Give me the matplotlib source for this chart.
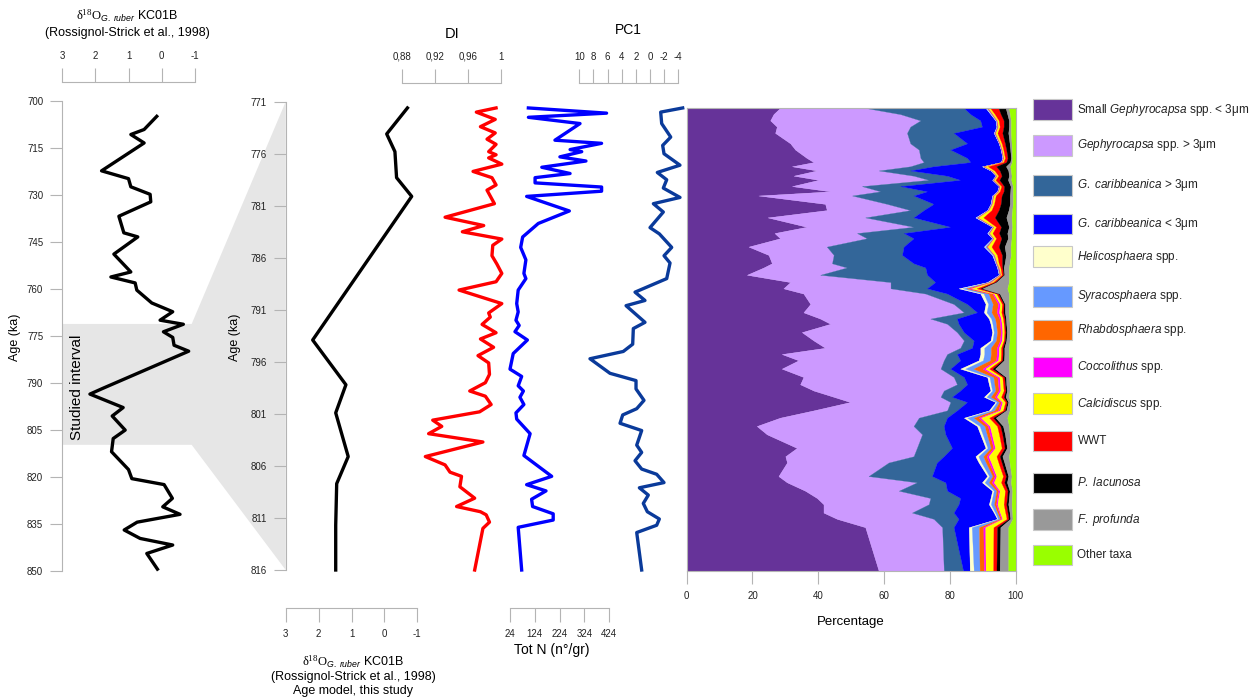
# %% biblioteke
import numpy as np
import matplotlib
matplotlib.use('Agg')
import matplotlib.pyplot as plt
from matplotlib.patches import Polygon, Rectangle

plt.rcParams['font.family'] = ['Liberation Sans', 'DejaVu Sans']
plt.rcParams['mathtext.fontset'] = 'custom'
plt.rcParams['mathtext.rm'] = 'Liberation Serif'
plt.rcParams['mathtext.it'] = 'Liberation Sans:italic'
plt.rcParams['mathtext.sf'] = 'Liberation Sans'
plt.rcParams['axes.unicode_minus'] = False

# %% podaci - d18O KC01B (Rossignol-Strick et al., 1998)
d18o_age = [704.9, 709.1, 710.7, 713.4, 722.3, 724.8, 727.4, 729.8, 732.2, 736.8,
            742.1, 743.4, 748.9, 754.6, 756.2, 758.1, 760.4, 764.5, 767.3, 770.0,
            771.3, 773.7, 775.5, 778.0, 779.9, 791.8, 793.6, 797.9, 800.6, 805.1,
            807.8, 812.0, 817.7, 820.6, 822.5, 826.9, 829.6, 832.0, 834.5, 837.0,
            839.7, 841.8, 844.5, 849.5]
d18o_val = [0.15, 0.53, 0.93, 0.53, 1.81, 1.00, 0.93, 0.35, 0.33, 1.29,
            1.14, 0.72, 1.44, 0.93, 1.53, 0.80, 0.75, 0.30, -0.33, 0.05,
            -0.65, -0.05, -0.33, -0.37, -0.81, 1.78, 2.16, 1.16, 1.49, 1.10,
            1.46, 1.51, 1.00, 0.90, -0.07, -0.32, -0.03, -0.55, 0.74, 1.13,
            0.65, -0.33, 0.45, 0.13]
studied_top, studied_bottom = 771.2, 809.8

# d18O na novom starosnom modelu
am_age = [771.6, 774.1, 775.8, 778.3, 780.1, 793.9, 798.2, 800.9, 805.1, 807.7, 811.7, 816.0]
am_val = [-0.70, -0.07, -0.32, -0.37, -0.83, 2.18, 1.17, 1.48, 1.10, 1.45, 1.48, 1.48]

# %% DI
di_age = [771.6, 772.0, 772.7, 773.4, 774.0, 774.6, 775.1, 775.8, 776.1, 776.4,
          777.0, 777.7, 778.3, 779.0, 779.5, 780.8, 782.1, 782.9, 783.5, 784.2,
          784.8, 785.8, 786.6, 787.5, 788.3, 789.1, 790.4, 791.3, 791.7, 792.4,
          793.2, 793.8, 794.6, 795.4, 796.1, 797.2, 798.0, 798.8, 799.3, 800.1,
          800.8, 801.6, 802.2, 802.9, 803.7, 805.1, 805.9, 806.6, 807.0, 808.0,
          809.1, 809.9, 810.4, 810.7, 811.4, 812.0, 816.0]
di_val = [0.994, 0.970, 0.993, 0.975, 0.993, 0.983, 0.994, 0.985, 0.994, 0.985,
          1.001, 0.966, 0.989, 0.994, 0.983, 0.992, 0.932, 0.979, 0.953, 1.001,
          0.990, 0.989, 0.995, 1.001, 0.994, 0.949, 1.001, 0.985, 0.987, 0.977,
          0.994, 0.975, 0.991, 0.972, 0.985, 0.986, 0.981, 0.962, 0.981, 0.988,
          0.974, 0.917, 0.928, 0.912, 0.978, 0.908, 0.932, 0.938, 0.952, 0.950,
          0.968, 0.946, 0.975, 0.982, 0.986, 0.978, 0.968]

# %% Tot N (n/gr)
totn_age = [771.6, 772.1, 772.5, 773.1, 774.7, 775.0, 775.6, 775.8, 776.3, 776.7,
            777.3, 777.9, 778.3, 778.8, 779.2, 779.6, 780.1, 781.5, 782.7, 784.0,
            785.0, 786.2, 787.5, 788.0, 789.1, 790.4, 791.2, 792.0, 792.5, 793.1,
            793.9, 795.2, 796.7, 797.4, 798.3, 798.8, 799.4, 800.1, 800.9, 801.5,
            802.9, 805.0, 807.0, 807.8, 808.4, 809.2, 809.9, 810.6, 811.2, 811.9,
            816.0]
totn_val = [98, 413, 98, 306, 205, 393, 266, 313, 225, 330,
            152, 266, 125, 125, 393, 393, 91, 263, 138, 75,
            67, 88, 80, 88, 57, 51, 57, 48, 61, 44,
            94, 37, 24, 71, 57, 78, 64, 80, 48, 51,
            105, 80, 192, 91, 169, 111, 115, 198, 198, 57,
            71]

# %% PC1
pc1_age = [771.6, 772.0, 773.1, 774.4, 775.2, 776.0, 777.1, 777.8, 778.5, 779.3,
           780.2, 780.8, 781.6, 783.1, 783.7, 785.0, 785.8, 786.5, 788.0, 789.3,
           790.1, 790.6, 792.2, 792.8, 794.3, 795.0, 795.7, 797.1, 797.8, 798.6,
           799.7, 800.5, 801.1, 801.9, 802.6, 804.0, 804.7, 805.5, 806.3, 806.8,
           807.6, 808.1, 808.8, 809.6, 810.4, 811.1, 811.7, 812.4, 816.0]
pc1_val = [-4.62, -1.51, -1.65, -2.93, -1.79, -1.98, -4.24, -1.03, -2.36, -1.88,
           -4.24, -0.47, -1.88, 0.00, -1.32, -3.07, -1.98, -2.83, -2.36, 2.12,
           0.71, 3.39, 0.71, 2.36, 2.45, 3.78, 8.49, 5.66, 1.98, 1.98,
           0.85, 1.88, 3.86, 4.24, 1.18, 1.88, 1.18, 2.12, 1.18, -0.94,
           -1.98, 1.51, 0.24, 0.95, 0.38, -1.32, -0.94, 1.88, 1.18]

# %% zajednica kokolitoforida (%)
stack_age = [771.6, 772.2, 772.8, 773.4, 774.0, 775.0, 775.6, 776.4, 776.8, 777.2,
             777.6, 778.1, 778.5, 779.1, 779.6, 780.0, 780.8, 781.4, 782.1, 783.0,
             783.6, 784.1, 784.9, 785.7, 786.5, 786.9, 787.6, 788.3, 788.9, 789.4,
             790.4, 791.2, 791.8, 792.3, 793.1, 793.9, 794.6, 795.2, 795.8, 796.6,
             797.4, 798.1, 798.7, 799.3, 799.8, 800.6, 801.3, 802.1, 802.9, 804.2,
             805.0, 805.6, 806.9, 807.5, 808.3, 809.0, 809.6, 810.4, 811.0, 811.8,
             816.0]
small_geph = [28.4, 26.4, 25.4, 27.4, 26.9, 31.5, 33.0, 36.5, 38.6, 32.0,
              39.6, 32.5, 40.1, 32.0, 43.7, 21.8, 42.1, 42.6, 24.6, 36.5,
              26.7, 28.4, 18.8, 24.9, 25.9, 23.4, 18.3, 31.5, 29.4, 35.5,
              37.6, 35.5, 40.6, 43.7, 35.0, 38.6, 42.1, 28.9, 34.0, 28.9,
              35.5, 34.5, 38.6, 44.7, 49.7, 38.6, 28.4, 21.3, 24.4, 33.5,
              30.0, 30.5, 27.9, 30.5, 36.0, 39.6, 41.6, 41.6, 45.7, 54.3,
              58.4]
geph_large = [25.9, 38.6, 45.7, 40.6, 40.1, 36.5, 37.6, 34.6, 33.5, 36.0,
              18.8, 36.5, 33.5, 21.3, 15.2, 28.5, 18.8, 25.4, 29.7, 32.5,
              25.1, 26.4, 23.8, 19.8, 18.3, 25.3, 22.3, 30.5, 32.6, 37.1,
              43.6, 48.8, 33.5, 35.5, 47.2, 45.7, 41.1, 50.3, 44.2, 48.3,
              45.7, 47.7, 39.6, 32.5, 30.5, 40.6, 42.2, 47.7, 47.2, 36.5,
              39.0, 30.9, 27.4, 39.5, 28.5, 34.5, 32.0, 26.9, 29.4, 23.4,
              19.8]
carib_large = [30.0, 21.3, 18.2, 21.8, 14.2, 17.3, 9.6, 14.2, 14.2, 7.1,
               9.6, 10.2, 9.6, 11.7, 14.2, 18.7, 14.2, 4.1, 14.7, 11.2,
               14.2, 14.2, 23.4, 20.8, 24.8, 23.9, 32.5, 13.6, 11.1, 6.6,
               4.1, 4.0, 8.1, 3.5, 2.1, 3.0, 3.6, 3.0, 5.0, 3.0,
               3.1, 3.1, 5.0, 3.5, 5.1, 3.0, 8.6, 9.2, 7.1, 10.7,
               9.2, 14.7, 19.3, 8.7, 14.7, 9.1, 9.1, 12.7, 7.6, 3.5,
               5.9]
carib_small = [6.6, 6.1, 4.6, 4.4, 12.2, 9.6, 15.3, 10.7, 9.2, 14.7,
               24.4, 14.7, 9.7, 29.9, 21.3, 23.9, 17.3, 19.3, 18.8, 12.7,
               25.4, 23.9, 24.4, 27.4, 24.9, 21.8, 21.8, 15.8, 9.6, 10.1,
               5.6, 2.1, 9.7, 9.7, 8.6, 5.1, 2.5, 7.1, 5.6, 3.0,
               7.1, 6.6, 9.2, 9.7, 8.6, 9.7, 5.1, 10.1, 10.6, 10.2,
               9.6, 12.7, 16.8, 11.1, 13.7, 9.2, 9.2, 12.2, 11.7, 4.6,
               2.0]
helico = [0.2, 0.2, 0.1, 0.1, 0.1, 0.1, 0.1, 0.1, 0.1, 0.2,
          0.1, 0.1, 0.1, 0.1, 0.1, 0.1, 0.1, 0.1, 0.3, 0.1,
          0.2, 0.1, 0.3, 0.2, 0.1, 0.1, 0.1, 0.3, 1.2, 1.0,
          0.8, 0.8, 0.7, 0.6, 0.5, 0.6, 1.2, 1.2, 1.3, 1.5,
          0.7, 0.6, 0.5, 0.8, 0.4, 0.6, 1.0, 0.8, 0.7, 0.6,
          0.9, 0.8, 0.6, 0.8, 0.5, 0.5, 0.6, 0.4, 0.3, 0.9,
          1.2]
syraco = [0.3, 0.2, 0.2, 0.2, 0.2, 0.1, 0.1, 0.1, 0.1, 0.3,
          0.2, 0.1, 0.2, 0.1, 0.1, 0.2, 0.2, 0.2, 0.3, 0.2,
          0.3, 0.2, 0.5, 0.3, 0.2, 0.2, 0.2, 0.4, 1.2, 1.5,
          1.4, 1.5, 1.2, 1.1, 1.0, 1.1, 2.0, 2.0, 2.2, 2.5,
          1.2, 1.1, 1.0, 1.3, 0.7, 1.1, 2.0, 1.5, 1.3, 1.0,
          1.5, 1.4, 1.0, 1.3, 0.8, 0.9, 1.0, 0.7, 0.6, 2.2,
          1.8]
rhabdo = [0.2, 0.2, 0.1, 0.1, 0.1, 0.1, 0.1, 0.1, 0.1, 0.2,
          0.1, 0.1, 0.1, 0.1, 0.1, 0.1, 0.1, 0.1, 0.2, 0.1,
          0.1, 0.1, 0.2, 0.1, 0.1, 0.2, 0.2, 0.3, 1.0, 1.2,
          1.6, 1.6, 1.3, 1.2, 1.1, 1.2, 1.8, 1.8, 1.8, 2.8,
          1.2, 1.1, 1.0, 1.2, 0.6, 1.1, 1.5, 1.0, 0.9, 0.8,
          1.0, 1.0, 0.7, 0.9, 0.6, 0.6, 0.6, 0.5, 0.4, 1.3,
          1.3]
cocco = [0.1, 0.1, 0.1, 0.1, 0.1, 0.1, 0.1, 0.1, 0.1, 0.1,
         0.1, 0.1, 0.1, 0.1, 0.1, 0.1, 0.1, 0.1, 0.1, 0.1,
         0.1, 0.1, 0.1, 0.1, 0.1, 0.1, 0.1, 0.2, 0.5, 0.4,
         0.6, 0.7, 0.5, 0.5, 0.5, 0.5, 0.6, 0.6, 0.6, 0.8,
         0.6, 0.6, 0.5, 0.6, 0.4, 0.6, 0.7, 0.6, 0.6, 0.5,
         0.6, 0.6, 0.5, 0.6, 0.4, 0.4, 0.4, 0.3, 0.3, 0.6,
         0.5]
calci = [0.6, 0.6, 0.5, 0.5, 0.6, 0.5, 0.4, 0.4, 0.4, 1.0,
         0.7, 0.5, 0.5, 0.4, 0.4, 0.6, 0.6, 0.8, 1.5, 0.7,
         0.9, 0.7, 1.2, 0.8, 0.5, 0.4, 0.3, 0.6, 1.6, 0.8,
         0.6, 0.7, 0.6, 0.6, 0.6, 0.6, 0.7, 0.7, 0.8, 1.2,
         0.9, 0.9, 1.0, 1.3, 0.9, 0.9, 2.5, 2.2, 2.2, 2.0,
         2.4, 2.2, 2.0, 2.2, 1.6, 1.8, 1.9, 1.6, 1.3, 2.5,
         2.3]
wwt = [2.5, 1.8, 1.5, 1.2, 1.5, 1.0, 0.9, 0.8, 0.9, 2.5,
       1.6, 1.0, 1.2, 0.8, 1.2, 1.8, 2.0, 2.2, 3.5, 1.5,
       2.0, 1.6, 2.2, 1.5, 1.0, 0.6, 0.5, 0.6, 1.2, 0.6,
       0.5, 0.6, 0.5, 0.4, 0.4, 0.4, 0.5, 0.5, 0.5, 1.0,
       0.6, 0.6, 0.6, 0.8, 0.5, 0.6, 1.2, 1.0, 1.0, 0.9,
       1.0, 1.0, 0.9, 1.0, 0.8, 0.8, 0.8, 0.7, 0.6, 1.1,
       1.0]
placun = [2.2, 2.0, 1.6, 1.6, 1.8, 1.4, 1.2, 1.0, 1.2, 3.0,
          2.6, 2.2, 2.6, 2.0, 2.0, 2.5, 2.8, 3.0, 3.5, 2.4,
          2.5, 2.0, 1.8, 1.2, 0.8, 0.4, 0.3, 0.4, 0.6, 0.4,
          0.4, 0.5, 0.4, 0.4, 0.4, 0.4, 0.5, 0.5, 0.5, 0.8,
          0.5, 0.4, 0.4, 0.6, 0.4, 0.4, 0.8, 0.8, 0.8, 0.7,
          0.8, 0.8, 0.7, 0.8, 0.6, 0.6, 0.6, 0.6, 0.5, 1.0,
          1.0]
fprof = [1.0, 0.8, 0.6, 0.6, 0.8, 0.6, 0.5, 0.4, 0.5, 1.3,
         0.8, 0.8, 1.0, 0.7, 0.8, 0.9, 0.9, 1.1, 1.6, 1.0,
         1.3, 1.1, 1.8, 1.5, 1.5, 1.6, 1.4, 3.8, 7.5, 2.8,
         1.2, 1.2, 1.0, 1.0, 0.8, 1.0, 1.4, 1.4, 1.5, 4.2,
         1.0, 1.0, 0.8, 1.0, 0.6, 1.0, 3.5, 1.8, 1.4, 1.0,
         2.0, 1.6, 1.0, 1.2, 0.8, 0.9, 1.0, 0.8, 0.7, 2.4,
         2.6]
other = [2.0, 1.7, 1.4, 1.4, 1.4, 1.2, 1.1, 1.0, 1.1, 1.6,
         1.4, 1.2, 1.3, 0.8, 0.8, 0.8, 0.8, 1.0, 1.2, 1.0,
         1.2, 1.2, 1.5, 1.4, 1.8, 2.0, 2.0, 2.0, 2.5, 2.0,
         2.0, 2.0, 1.9, 1.8, 1.8, 1.8, 2.0, 2.0, 2.0, 2.0,
         1.9, 1.8, 1.8, 2.0, 1.6, 1.8, 2.5, 2.0, 1.8, 1.6,
         2.0, 1.8, 1.2, 1.4, 1.0, 1.1, 1.2, 1.0, 0.9, 2.2,
         2.2]

taxa = [small_geph, geph_large, carib_large, carib_small, helico, syraco,
        rhabdo, cocco, calci, wwt, placun, fprof, other]
taxa_colors = ['#663399', '#cc99ff', '#336699', '#0000ff', '#ffffcc', '#6699ff',
               '#ff6600', '#ff00ff', '#ffff00', '#ff0000', '#000000', '#999999',
               '#99ff00']
taxa_labels = ['Small $\\mathit{Gephyrocapsa}$ spp. < 3μm',
               '$\\mathit{Gephyrocapsa}$ spp. > 3μm',
               '$\\mathit{G.\\ caribbeanica}$ > 3μm',
               '$\\mathit{G.\\ caribbeanica}$ < 3μm',
               '$\\mathit{Helicosphaera}$ spp.',
               '$\\mathit{Syracosphaera}$ spp.',
               '$\\mathit{Rhabdosphaera}$ spp.',
               '$\\mathit{Coccolithus}$ spp.',
               '$\\mathit{Calcidiscus}$ spp.',
               'WWT',
               '$\\mathit{P.\\ lacunosa}$',
               '$\\mathit{F.\\ profunda}$',
               'Other taxa']

# %% raspored (pikseli)
W, H = 1259, 699
GRAY = '#b4b4b4'
TXT = '#222222'
TICK_FS = 7
LW = 2.4

fig = plt.figure(figsize=(W / 100, H / 100), dpi=100)


def box(x0, y0, x1, y1):
    return [x0 / W, 1 - y1 / H, (x1 - x0) / W, (y1 - y0) / H]


def ftext(x, y, s, **kw):
    kw.setdefault('ha', 'center')
    kw.setdefault('va', 'center')
    fig.text(x / W, 1 - y / H, s, **kw)


ov = fig.add_axes([0, 0, 1, 1])
ov.set_xlim(0, W)
ov.set_ylim(H, 0)
ov.axis('off')


def clean(ax, keep):
    ax.set_facecolor('none')
    for name, sp in ax.spines.items():
        sp.set_visible(name in keep)
        sp.set_color(GRAY)
        sp.set_linewidth(0.8)
    ax.tick_params(colors=GRAY, labelcolor=TXT, labelsize=TICK_FS, width=0.8)


# %% panel 1 - d18O
ax1 = fig.add_axes(box(62, 101, 195, 570.7))
clean(ax1, ['left', 'top'])
ax1.plot(d18o_val, d18o_age, color='black', lw=LW, clip_on=False)
ax1.set_xlim(3, -1)
ax1.set_ylim(850, 700)
ax1.spines['top'].set_position(('outward', 13.7))
ax1.xaxis.tick_top()
ax1.set_xticks([3, 2, 1, 0, -1])
ax1.set_yticks(np.arange(700, 851, 15))
ax1.tick_params(axis='x', length=10, pad=5)
ax1.tick_params(axis='y', length=8.6, pad=5)

# %% panel 2 - d18O novi model
ax2 = fig.add_axes(box(285.7, 101.7, 417.3, 570))
clean(ax2, ['left', 'bottom'])
ax2.plot(am_val, am_age, color='black', lw=LW, clip_on=False)
ax2.set_xlim(3, -1)
ax2.set_ylim(816, 771)
ax2.spines['bottom'].set_position(('outward', 27.4))
ax2.set_xticks([3, 2, 1, 0, -1])
ax2.set_yticks(np.arange(771, 817, 5))
ax2.tick_params(axis='x', length=10, pad=5)
ax2.tick_params(axis='y', length=8.6, pad=5)

# %% panel 3 - DI
ax3 = fig.add_axes(box(402.3, 101.7, 501, 570))
clean(ax3, ['top'])
ax3.plot(di_val, di_age, color='#ff0000', lw=LW, clip_on=False)
ax3.set_xlim(0.88, 1.0)
ax3.set_ylim(816, 771)
ax3.spines['top'].set_position(('outward', 13.7))
ax3.xaxis.tick_top()
ax3.set_xticks([0.88, 0.92, 0.96, 1.0])
ax3.set_xticklabels(['0,88', '0,92', '0,96', '1'])
ax3.set_yticks([])
ax3.tick_params(axis='x', length=10, pad=5)

# %% panel 4 - Tot N
ax4 = fig.add_axes(box(510, 101.7, 609.3, 570))
clean(ax4, ['bottom'])
ax4.plot(totn_val, totn_age, color='#0000ff', lw=LW, clip_on=False)
ax4.set_xlim(24, 424)
ax4.set_ylim(816, 771)
ax4.spines['bottom'].set_position(('outward', 27.4))
ax4.set_xticks([24, 124, 224, 324, 424])
ax4.set_yticks([])
ax4.tick_params(axis='x', length=10, pad=5)

# %% panel 5 - PC1
ax5 = fig.add_axes(box(579.3, 101.7, 678.3, 570))
clean(ax5, ['top'])
ax5.plot(pc1_val, pc1_age, color='#0a3a9a', lw=LW, clip_on=False)
ax5.set_xlim(10, -4)
ax5.set_ylim(816, 771)
ax5.spines['top'].set_position(('outward', 13.7))
ax5.xaxis.tick_top()
ax5.set_xticks([10, 8, 6, 4, 2, 0, -2, -4])
ax5.set_yticks([])
ax5.tick_params(axis='x', length=10, pad=5)

# %% panel 6 - procenti
ax6 = fig.add_axes(box(686.7, 107.9, 1015.5, 571))
clean(ax6, ['left', 'right', 'top', 'bottom'])
cum = np.cumsum(np.array(taxa), axis=0)
left = np.zeros(len(stack_age))
for i, c in enumerate(taxa_colors):
    ax6.fill_betweenx(stack_age, left, cum[i], facecolor=c, edgecolor=c, lw=0.2)
    left = cum[i]
ax6.set_xlim(0, 100)
ax6.set_ylim(816, 771.6)
ax6.set_xticks([0, 20, 40, 60, 80, 100])
ax6.set_yticks([])
ax6.tick_params(axis='x', length=9.5, pad=5)

# %% siva zona - studied interval
to_ov = ov.transData.inverted()
p_top = to_ov.transform(ax1.transData.transform((3, studied_top)))
p_bot = to_ov.transform(ax1.transData.transform((3, studied_bottom)))
p_kink_t = to_ov.transform(ax1.transData.transform((-0.9, studied_top)))
p_kink_b = to_ov.transform(ax1.transData.transform((-0.9, studied_bottom)))
q_top = to_ov.transform(ax2.transData.transform((3, 771)))
q_bot = to_ov.transform(ax2.transData.transform((3, 816)))
ov.add_patch(Polygon([p_top, p_kink_t, q_top, q_bot, p_kink_b, p_bot],
                     closed=True, facecolor='#e6e6e6', edgecolor='none'))

# %% legenda
leg_y = [109.7, 145.3, 185.3, 224, 256.7, 296.3, 330, 367, 403.7, 441, 483, 519.7, 555]
for yy, c, lab in zip(leg_y, taxa_colors, taxa_labels):
    ov.add_patch(Rectangle((1033.3, yy - 10.3), 39, 20.6, facecolor=c,
                           edgecolor='#c8c8c8', lw=0.8))
    ov.text(1077.5, yy, lab, fontsize=8.5, ha='left', va='center', color=TXT)

# %% tekstovi
d18o_lbl = r'$\mathrm{\delta^{18}O}_{\mathit{G.\ ruber}}$ KC01B'
ftext(127, 16, d18o_lbl, fontsize=9)
ftext(127, 33, '(Rossignol-Strick et al., 1998)', fontsize=9)
ftext(353, 662, d18o_lbl, fontsize=9)
ftext(353, 677, '(Rossignol-Strick et al., 1998)', fontsize=9)
ftext(353, 691, 'Age model, this study', fontsize=9)
ftext(452, 34, 'DI', fontsize=10.5)
ftext(628, 30, 'PC1', fontsize=10)
ftext(552, 650, 'Tot N (n°/gr)', fontsize=10)
ftext(851, 622, 'Percentage', fontsize=9.5)
ftext(15, 337, 'Age (ka)', fontsize=9, rotation=90)
ftext(235, 337, 'Age (ka)', fontsize=9, rotation=90)
ftext(77, 387, 'Studied interval', fontsize=11, rotation=90)

fig.savefig('out.png', dpi=100)
